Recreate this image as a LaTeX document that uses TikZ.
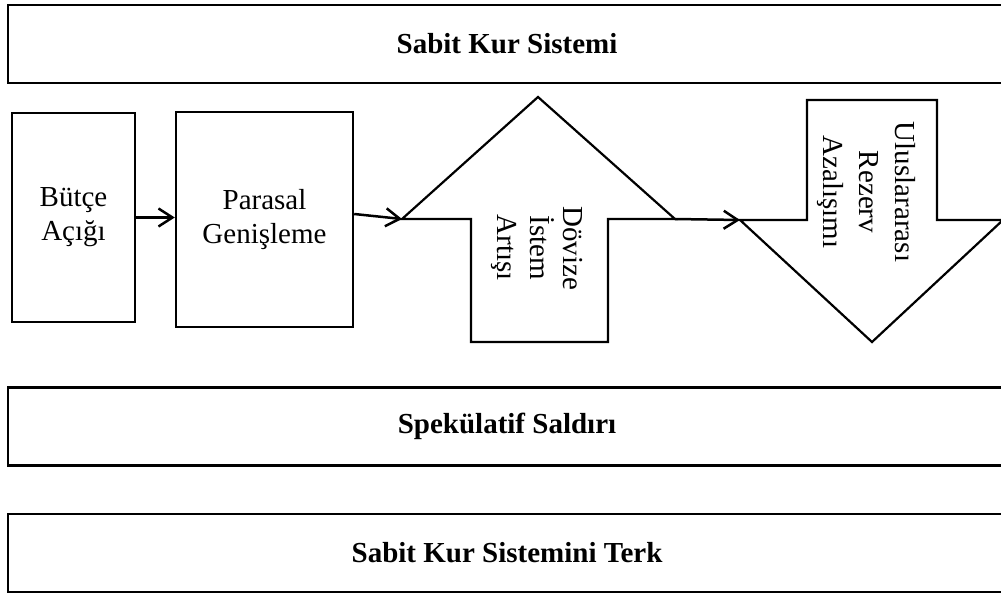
\documentclass[tikz,border=0pt]{standalone}
\usepackage{fontspec}
\setmainfont{Liberation Serif}
\usetikzlibrary{arrows.meta}
\begin{document}
\begin{tikzpicture}[x=1pt,y=-1pt,
  bigbox/.style={draw, line width=2.8pt, minimum width=998pt, minimum height=78pt, inner sep=0pt,
     font=\fontsize{29}{34}\selectfont\bfseries},
  smallbox/.style={draw, line width=2.4pt, inner sep=0pt, align=center,
     font=\fontsize{29}{34}\selectfont},
  bigarrow/.style={draw, line width=2.2pt, line join=miter},
  vtext/.style={rotate=-90, align=center, inner sep=0pt, font=\fontsize{29}{33}\selectfont},
  link/.style={line width=2.5pt, -{Straight Barb[length=14pt,width=18pt,line width=2.5pt]}}]
\useasboundingbox (0,0) rectangle (1001,594);
% top and bottom boxes
\node[bigbox] (sabit) at (507,44) {Sabit Kur Sistemi};
\node[bigbox] (spek) at (507,426.5) {Spekülatif Saldırı};
\node[bigbox] (terk) at (507,553) {Sabit Kur Sistemini Terk};
% small boxes
\node[smallbox, minimum width=123pt, minimum height=209pt] (butce) at (73.5,217.5) {Bütçe\\Açığı};
\node[smallbox, minimum width=177pt, minimum height=215pt] (parasal) at (264.5,219.5) {Parasal\\Genişleme};
% up arrow
\coordinate (upL) at (402,219);
\coordinate (upR) at (675,219);
\draw[bigarrow] (upL) -- (538,97) -- (upR) -- (608,219) -- (608,342) -- (471,342) -- (471,219) -- cycle;
\node[vtext] (doviz) at (537,248) {Dövize\\İstem\\Artışı};
% down arrow
\coordinate (dnL) at (740,220);
\coordinate (dnR) at (1003,220);
\draw[bigarrow] (dnL) -- (807,220) -- (807,100) -- (937,100) -- (937,220) -- (dnR) -- (872,342) -- cycle;
\node[vtext, font=\fontsize{29}{36}\selectfont] (rezerv) at (866,192) {Uluslararası\\Rezerv\\Azalışımı};
% connectors
\draw[link] (butce.east) -- (butce.east -| parasal.west);
\draw[link] (parasal.east |- 0,214) -- (upL);
\draw[link] (upR) -- (dnL);
\end{tikzpicture}
\end{document}
